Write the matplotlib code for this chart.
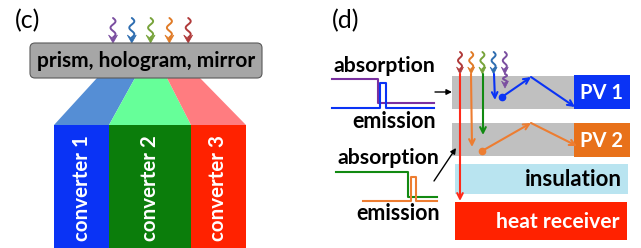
import numpy as np
import matplotlib
matplotlib.use("Agg")
import matplotlib.pyplot as plt
from matplotlib.patches import Rectangle, Polygon, FancyBboxPatch, FancyArrowPatch

plt.rcParams['font.family'] = ['Lato', 'DejaVu Sans']

# ---- content ----
panel_labels = ["(c)", "(d)"]
splitter_label = "prism, hologram, mirror"
converter_labels = ["converter 1", "converter 2", "converter 3"]
converter_colors = ["#0a33f5", "#0b7d0b", "#ff2200"]
beam_colors = ["#558ed5", "#66ff99", "#ff7c80"]
photon_colors_c = ["#7a4ea0", "#2e6db0", "#77a33a", "#e07b27", "#b03a3a"]
photon_colors_d = ["#b03a3a", "#e07b27", "#77a33a", "#2e6db0", "#7a4ea0"]
band_labels = ["PV 1", "PV 2", "insulation", "heat receiver"]

# spectra (step curves): x, y in figure pixels
abs1_x = [332, 378, 378, 434]
abs1_y = [79, 79, 103, 103]
em1_x = [332, 380, 380, 386, 386, 434]
em1_y = [108, 108, 83, 83, 108, 108]
abs2_x = [336, 408, 408, 437]
abs2_y = [172, 172, 197, 197]
em2_x = [363, 411, 411, 416, 416, 437]
em2_y = [201, 201, 177, 177, 201, 201]


def squiggle(ax, x, y0, y1, color, hl, hw, amp, lw=1.4):
    t = np.linspace(0, 1, 80)
    ys = y0 + (y1 - hl * 0.7 - y0) * t
    xs = x + amp * np.sin(3 * np.pi * t)
    ax.plot(xs, ys, color=color, lw=lw, solid_capstyle='round')
    head = [(x - hw / 2, y1 - hl), (x, y1 - hl * 0.55), (x + hw / 2, y1 - hl), (x, y1)]
    ax.add_patch(Polygon(head, closed=True, fc=color, ec=color, lw=0.5))


def arrow(ax, p0, p1, color, lw=1.5, style='->', scale=10):
    ax.add_patch(FancyArrowPatch(p0, p1, arrowstyle=style, color=color, lw=lw,
                                 shrinkA=0, shrinkB=0, mutation_scale=scale))


fig = plt.figure(figsize=(6.41, 2.48), dpi=100)
ax = fig.add_axes([0, 0, 1, 1])
ax.set_xlim(0, 641)
ax.set_ylim(248, 0)
ax.axis('off')

# ---------------- panel (c) ----------------
ax.text(28, 21, panel_labels[0], fontsize=18, ha='center', va='center')

for i, c in enumerate(photon_colors_c):
    squiggle(ax, 113 + i * 18.8, 18, 43, c, hl=8, hw=9, amp=2.5)

ax.add_patch(FancyBboxPatch((30, 43), 232, 35, boxstyle="round,pad=0,rounding_size=5",
                            fc="#a6a6a6", ec="#595959", lw=0.8, zorder=3))
ax.text(146, 61, splitter_label, fontsize=15, fontweight='bold', ha='center',
        va='center', zorder=4)

top_edges = [97, 135, 167, 200]
bot_edges = [54, 109, 191, 246]
for i in range(3):
    ax.add_patch(Polygon([(top_edges[i], 78), (top_edges[i + 1], 78),
                          (bot_edges[i + 1], 125), (bot_edges[i], 125)],
                         closed=True, fc=beam_colors[i], ec='none'))
    ax.add_patch(Rectangle((bot_edges[i], 125), bot_edges[i + 1] - bot_edges[i], 125,
                           fc=converter_colors[i], ec='none'))
    ax.text((bot_edges[i] + bot_edges[i + 1]) / 2, 188, converter_labels[i], rotation=90,
            color='white', fontsize=14.8, fontweight='bold', ha='center', va='center')

# ---------------- panel (d) ----------------
ax.text(346, 21, panel_labels[1], fontsize=18, ha='center', va='center')

# bands
ax.add_patch(Rectangle((452, 76), 123, 33, fc="#c0c0c0", ec='none'))
ax.add_patch(Rectangle((452, 123), 123, 33, fc="#c0c0c0", ec='none'))
ax.add_patch(Rectangle((574, 75), 56, 34, fc="#0a33f5", ec='none'))
ax.add_patch(Rectangle((574, 123), 56, 34, fc="#e8711a", ec='none'))
ax.add_patch(Rectangle((455, 164), 173, 30, fc="#b9e4f0", ec='none'))
ax.add_patch(Rectangle((455, 202), 172, 38, fc="#ff2200", ec='none'))

ax.text(602, 93, band_labels[0], color='white', fontsize=14.5, fontweight='bold',
        ha='center', va='center')
ax.text(602, 141, band_labels[1], color='white', fontsize=14.5, fontweight='bold',
        ha='center', va='center')
ax.text(622, 180, band_labels[2], color='black', fontsize=16, fontweight='bold',
        ha='right', va='center')
ax.text(619, 222, band_labels[3], color='white', fontsize=15.2, fontweight='bold',
        ha='right', va='center')

# photons
for i, c in enumerate(photon_colors_d):
    squiggle(ax, 460 + i * 11.2, 52, 74, c, hl=7, hw=7, amp=2)

# transmitted / absorbed rays
arrow(ax, (460, 74), (460, 201), "#ff2a1a")
arrow(ax, (471, 74), (472, 147), "#ed7d31")
arrow(ax, (483, 74), (483, 135), "#128a12")
arrow(ax, (494, 74), (495, 100), "#0a33f5")
squiggle(ax, 505, 74, 88, "#7a4ea0", hl=7, hw=7, amp=2)

# emission from PV absorbers
ax.plot([502], [97], marker='o', ms=4.5, color="#0a33f5")
arrow(ax, (502, 97), (531, 77), "#0a33f5")
arrow(ax, (531, 77), (575, 107), "#0a33f5")
ax.plot([482], [151], marker='o', ms=4.5, color="#ed7d31")
arrow(ax, (482, 151), (531, 123), "#ed7d31")
arrow(ax, (531, 123), (577, 146), "#ed7d31")

# spectra
ax.text(384, 66, "absorption", fontsize=15.3, fontweight='bold', ha='center', va='center')
ax.plot(abs1_x, abs1_y, color="#7a30a0", lw=1.5)
ax.plot(em1_x, em1_y, color="#0a33f5", lw=1.5)
ax.text(394, 121, "emission", fontsize=15.5, fontweight='bold', ha='center', va='center')
arrow(ax, (435, 92), (452, 92), "black", lw=1.0, style='-|>', scale=8)

ax.text(388, 158, "absorption", fontsize=15.3, fontweight='bold', ha='center', va='center')
ax.plot(abs2_x, abs2_y, color="#128a12", lw=1.5)
ax.plot(em2_x, em2_y, color="#ed7d31", lw=1.5)
ax.text(398, 213, "emission", fontsize=15.5, fontweight='bold', ha='center', va='center')
arrow(ax, (434, 181), (456, 148), "black", lw=1.0, style='-|>', scale=8)

fig.savefig("out.png", dpi=100)
